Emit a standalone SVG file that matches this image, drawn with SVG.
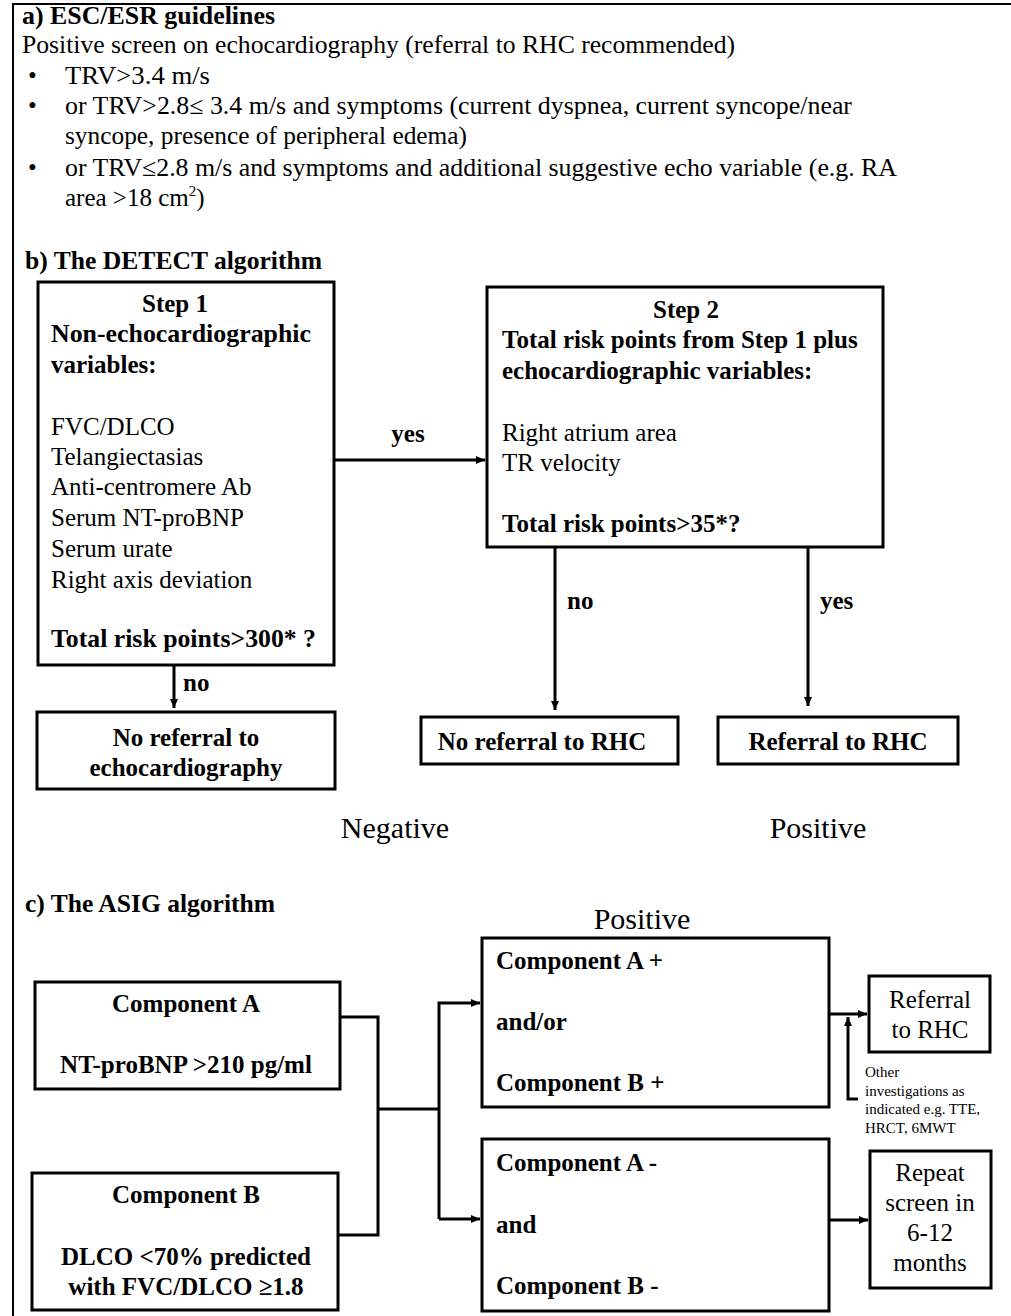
<svg xmlns="http://www.w3.org/2000/svg" width="1011" height="1316" viewBox="0 0 1011 1316">
<style>
text{font-family:"Liberation Serif","Times New Roman",serif;font-size:25px;fill:#000}
.b{font-weight:bold}
.c{text-anchor:middle}
.big{font-size:30px}
.sm{font-size:15px}
.box{fill:#fff;stroke:#000;stroke-width:3}
.ln{fill:none;stroke:#000;stroke-width:3}
.frame{fill:none;stroke:#000;stroke-width:2}
</style>
<defs>
<marker id="ah" markerWidth="9" markerHeight="8" refX="9" refY="4" orient="auto" markerUnits="userSpaceOnUse">
<path d="M0,0 L9,4 L0,8 Z" fill="#000"/>
</marker>
</defs>
<rect width="1011" height="1316" fill="#fff"/>
<path class="frame" d="M13,1316 V4 H1011"/>

<g id="section-a">
<text class="b" x="22" y="24" textLength="253" lengthAdjust="spacingAndGlyphs">a) ESC/ESR guidelines</text>
<text x="22" y="53" textLength="713" lengthAdjust="spacingAndGlyphs">Positive screen on echocardiography (referral  to RHC recommended)</text>
<text x="28" y="84">•</text>
<text x="65" y="84" textLength="145" lengthAdjust="spacingAndGlyphs">TRV&gt;3.4 m/s</text>
<text x="28" y="114">•</text>
<text x="65" y="114" textLength="787" lengthAdjust="spacingAndGlyphs">or TRV&gt;2.8≤ 3.4 m/s and symptoms (current dyspnea, current syncope/near</text>
<text x="65" y="144" textLength="402" lengthAdjust="spacingAndGlyphs">syncope, presence of peripheral edema)</text>
<text x="28" y="176">•</text>
<text x="65" y="176" textLength="832" lengthAdjust="spacingAndGlyphs">or TRV≤2.8 m/s and symptoms and additional suggestive echo variable (e.g. RA</text>
<text x="65" y="206">area &gt;18 cm<tspan font-size="15" dy="-10">2</tspan><tspan dy="10">)</tspan></text>
</g>

<text class="b" x="25" y="269" textLength="297" lengthAdjust="spacingAndGlyphs">b) The DETECT algorithm</text>

<g id="step1">
<rect class="box" x="38" y="282" width="296" height="383"/>
<text class="b c" x="175" y="312">Step 1</text>
<text class="b" x="51" y="342" textLength="260" lengthAdjust="spacingAndGlyphs">Non-echocardiographic</text>
<text class="b" x="51" y="373">variables:</text>
<text x="51" y="435">FVC/DLCO</text>
<text x="51" y="465">Telangiectasias</text>
<text x="51" y="495">Anti-centromere  Ab</text>
<text x="51" y="526">Serum NT-proBNP</text>
<text x="51" y="557">Serum urate</text>
<text x="51" y="588">Right  axis  deviation</text>
<text class="b" x="51" y="647" textLength="265" lengthAdjust="spacingAndGlyphs">Total risk points&gt;300* ?</text>
</g>

<g id="step2">
<rect class="box" x="487" y="287" width="396" height="260"/>
<text class="b c" x="686" y="318">Step 2</text>
<text class="b" x="502" y="348">Total risk points  from Step 1 plus</text>
<text class="b" x="502" y="379">echocardiographic variables:</text>
<text x="502" y="441">Right  atrium  area</text>
<text x="502" y="471">TR velocity</text>
<text class="b" x="502" y="532">Total risk points&gt;35*?</text>
</g>

<g id="no-echo">
<rect class="box" x="37" y="712" width="298" height="77"/>
<text class="b c" x="186" y="746">No referral to</text>
<text class="b c" x="186" y="776">echocardiography</text>
</g>

<g id="no-rhc">
<rect class="box" x="421" y="717" width="257" height="47"/>
<text class="b c" x="542" y="750">No referral to RHC</text>
</g>

<g id="rhc">
<rect class="box" x="718" y="717" width="240" height="47"/>
<text class="b c" x="838" y="750">Referral to RHC</text>
</g>

<text class="big c" x="395" y="838">Negative</text>
<text class="big c" x="818" y="838">Positive</text>

<text class="b" x="25" y="912" textLength="250" lengthAdjust="spacingAndGlyphs">c) The ASIG algorithm</text>

<g id="comp-a">
<rect class="box" x="35" y="982" width="305" height="107"/>
<text class="b c" x="186" y="1012">Component A</text>
<text class="b c" x="186" y="1073">NT-proBNP &gt;210 pg/ml</text>
</g>

<g id="comp-b">
<rect class="box" x="32" y="1173" width="306" height="137"/>
<text class="b c" x="186" y="1203">Component B</text>
<text class="b c" x="186" y="1265">DLCO &lt;70% predicted</text>
<text class="b c" x="186" y="1295">with FVC/DLCO  ≥1.8</text>
</g>

<text class="big c" x="642" y="929">Positive</text>

<g id="pos-box">
<rect class="box" x="482" y="938" width="347" height="169"/>
<text class="b" x="496" y="969">Component A +</text>
<text class="b" x="496" y="1030">and/or</text>
<text class="b" x="496" y="1091">Component B +</text>
</g>

<g id="neg-box">
<rect class="box" x="482" y="1139" width="347" height="172"/>
<text class="b" x="496" y="1171">Component A -</text>
<text class="b" x="496" y="1233">and</text>
<text class="b" x="496" y="1294">Component B -</text>
</g>

<g id="referral">
<rect class="box" x="869" y="976" width="121" height="76"/>
<text class="c" x="930" y="1008">Referral</text>
<text class="c" x="930" y="1038">to RHC</text>
</g>

<g id="other">
<text class="sm" x="865" y="1077">Other</text>
<text class="sm" x="865" y="1096">investigations as</text>
<text class="sm" x="865" y="1114">indicated e.g. TTE,</text>
<text class="sm" x="865" y="1133">HRCT, 6MWT</text>
</g>

<g id="repeat">
<rect class="box" x="870" y="1151" width="121" height="137"/>
<text class="c" x="930" y="1181">Repeat</text>
<text class="c" x="930" y="1211">screen in</text>
<text class="c" x="930" y="1241">6-12</text>
<text class="c" x="930" y="1271">months</text>
</g>

<g id="connectors">
<path class="ln" d="M334,460 H485" marker-end="url(#ah)"/>
<text class="b c" x="408" y="442">yes</text>
<path class="ln" d="M174,665 V708" marker-end="url(#ah)"/>
<text class="b" x="183" y="691">no</text>
<path class="ln" d="M555,547 V710" marker-end="url(#ah)"/>
<text class="b" x="567" y="609">no</text>
<path class="ln" d="M808,547 V706" marker-end="url(#ah)"/>
<text class="b" x="820" y="609">yes</text>
<path class="ln" d="M340,1017 H378 V1235 H338"/>
<path class="ln" d="M378,1109 H439"/>
<path class="ln" d="M439,1219 V1003 H480" marker-end="url(#ah)"/>
<path class="ln" d="M439,1219 H480" marker-end="url(#ah)"/>
<path class="ln" d="M829,1014 H867" marker-end="url(#ah)"/>
<path class="ln" d="M858,1099 H848 V1017" marker-end="url(#ah)"/>
<path class="ln" d="M829,1220 H868" marker-end="url(#ah)"/>
</g>
</svg>
